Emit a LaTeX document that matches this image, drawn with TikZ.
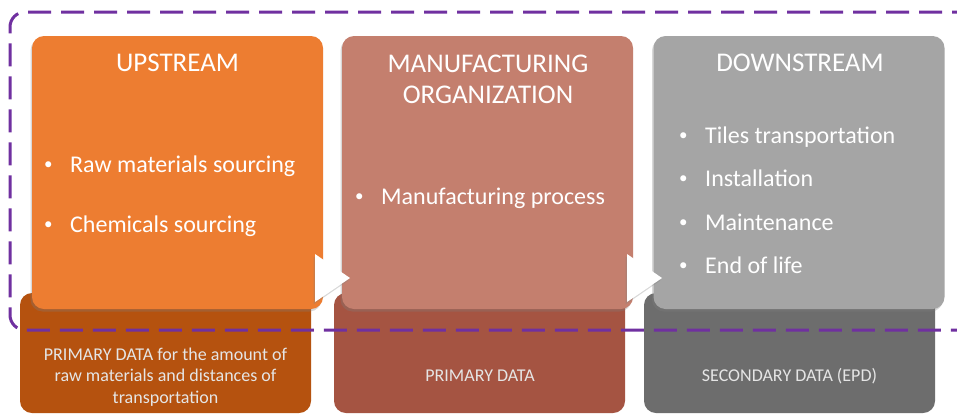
\documentclass[tikz,border=0pt]{standalone}
\usepackage{fontspec}
\setmainfont{Carlito}
\usetikzlibrary{shadows}

\definecolor{upOrange}{HTML}{ED7D31}
\definecolor{lowOrange}{HTML}{B5520F}
\definecolor{upBrown}{HTML}{C47F6E}
\definecolor{lowBrown}{HTML}{A55442}
\definecolor{upGrey}{HTML}{A5A5A5}
\definecolor{lowGrey}{HTML}{6D6D6D}
\definecolor{scopePurple}{HTML}{7030A0}

\begin{document}
\begin{tikzpicture}[x=1pt,y=-1pt,
  softshadow/.style={drop shadow={shadow xshift=-1.5pt, shadow yshift=-2.5pt, opacity=0.3}},
  stage/.style={rounded corners=12pt, minimum width=291pt, minimum height=273pt, inner sep=0pt, softshadow},
  datapanel/.style={rounded corners=12pt, minimum width=291pt, minimum height=120pt, inner sep=0pt},
  heading/.style={text=white, font=\fontsize{27}{31.5}\selectfont, align=center, inner sep=0pt},
  item/.style={text=white, font=\fontsize{24}{28}\selectfont, anchor=base west, inner sep=0pt},
  datatext/.style={text=white!90!black, font=\fontsize{18}{21.5}\selectfont, align=center, inner sep=0pt},
  flowtip/.style={fill=white, softshadow},
  scopeline/.style={draw=scopePurple, line width=3pt, dash pattern=on 23pt off 10pt, rounded corners=15pt}
]
\useasboundingbox[fill=white] (0,0) rectangle (957,415);

% data-source panels underneath
\node[datapanel, fill=lowOrange] (dataUp)   at (165.5,353) {};
\node[datapanel, fill=lowBrown]  (dataMan)  at (479.5,353) {};
\node[datapanel, fill=lowGrey]   (dataDown) at (789.5,353) {};

% system boundary (open on the right)
\draw[scopeline] (975,12) -- (10,12) -- (10,330) -- (975,330);

% life-cycle stages
\node[stage, fill=upOrange] (up)   at (177.5,172.5) {};
\node[stage, fill=upBrown]  (man)  at (487.5,172.5) {};
\node[stage, fill=upGrey]   (down) at (799,172.5) {};

% flow arrows between stages
\path[flowtip] (315,254) -- (315,302) -- (350,278) -- cycle;
\path[flowtip] (627,254) -- (627,302) -- (662,278) -- cycle;

% headings
\node[heading, anchor=base] (upTitle) at (177.5,71) {UPSTREAM};
\node[heading, anchor=north] (manTitle) at (488,54.5) {MANUFACTURING\\ORGANIZATION};
\node[heading, anchor=base] (downTitle) at (800,71) {DOWNSTREAM};

% stage contents
\newcommand{\stageitem}[1]{\makebox[26pt][l]{\fontsize{17}{17}\selectfont\raisebox{3pt}{•}}#1}
\node[item] (raw)   at (44,172) {\stageitem{Raw materials sourcing}};
\node[item] (chem)  at (44,232) {\stageitem{Chemicals sourcing}};
\node[item] (proc)  at (355,204) {\stageitem{Manufacturing process}};
\node[item] (tiles) at (679,143) {\stageitem{Tiles transportation}};
\node[item] (inst)  at (679,186) {\stageitem{Installation}};
\node[item] (maint) at (679,230) {\stageitem{Maintenance}};
\node[item] (eol)   at (679,273) {\stageitem{End of life}};

% data quality labels
\node[datatext, anchor=center] (dUpText) at (165.5,377) {PRIMARY DATA for the amount of\\raw materials and distances of\\transportation};
\node[datatext, anchor=base] (dManText) at (480,381) {PRIMARY DATA};
\node[datatext, anchor=base] (dDownText) at (789.5,381) {SECONDARY DATA (EPD)};
\end{tikzpicture}
\end{document}
